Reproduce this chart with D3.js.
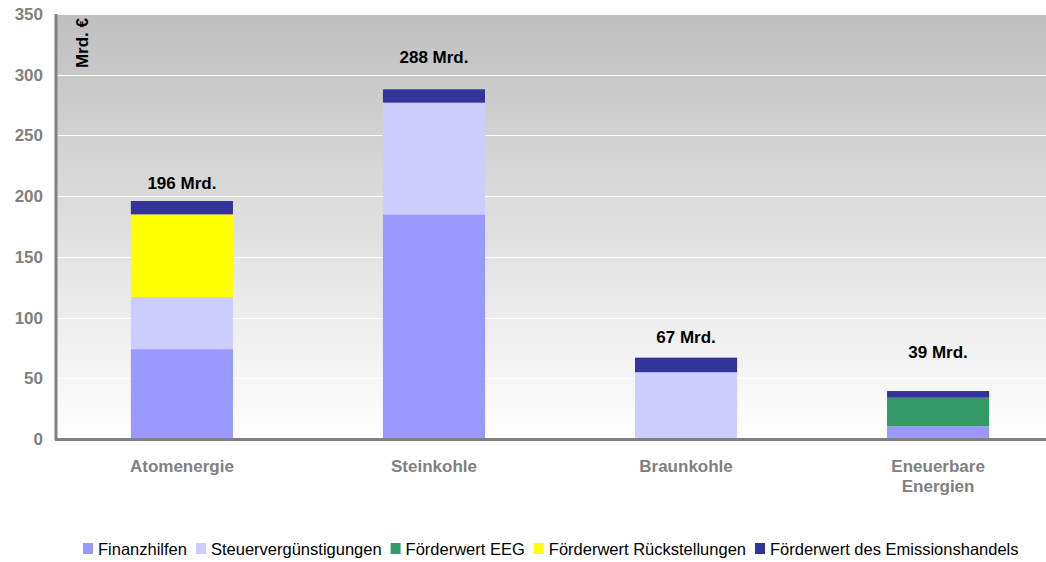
<!DOCTYPE html>
<html>
<head>
<meta charset="utf-8">
<script src="https://cdn.jsdelivr.net/npm/d3@7/dist/d3.min.js"></script>
<style>
  html, body { margin: 0; padding: 0; background: #fff; }
  svg { display: block; font-family: "Liberation Sans", Arial, sans-serif; }
</style>
</head>
<body>
<svg id="chart" width="1046" height="562"></svg>
<script>
// ---- Daten (Mrd. €) ----
const categories = ["Atomenergie", "Steinkohle", "Braunkohle", "Eneuerbare Energien"];
const seriesNames = ["Finanzhilfen", "Steuervergünstigungen", "Förderwert EEG", "Förderwert Rückstellungen", "Förderwert des Emissionshandels"];
const finanzhilfen = [74, 185, 0, 10.5];
const steuer = [43, 92, 55, 0];
const eeg = [0, 0, 0, 23.5];
const rueckstellungen = [68, 0, 0, 0];
const emission = [11, 11, 12, 5.5];
const totalLabels = ["196 Mrd.", "288 Mrd.", "67 Mrd.", "39 Mrd."];
const yTicks = [0, 50, 100, 150, 200, 250, 300, 350];

const colors = ["#9999ff", "#ccccff", "#339966", "#ffff00", "#333399"];
const seriesValues = [finanzhilfen, steuer, eeg, rueckstellungen, emission];

const svg = d3.select("#chart");
const W = 1046, H = 562;
const m = { left: 56, top: 14, bottom: 439 };
const plotRight = 1064; // Kategorie-Bänder laufen rechts über den Rand hinaus
const FONT = "Liberation Sans, Arial, sans-serif";

const x = d3.scaleBand().domain(categories).range([m.left, plotRight]).paddingInner(0.595).paddingOuter(0.297);
const y = d3.scaleLinear().domain([0, 350]).range([m.bottom, m.top]);

// Hintergrund-Verlauf
const defs = svg.append("defs");
const grad = defs.append("linearGradient").attr("id", "bg").attr("x1", 0).attr("y1", 0).attr("x2", 0).attr("y2", 1);
grad.append("stop").attr("offset", "0%").attr("stop-color", "#bfbfbf");
grad.append("stop").attr("offset", "100%").attr("stop-color", "#ffffff");
svg.append("rect").attr("x", m.left).attr("y", m.top).attr("width", W - m.left).attr("height", m.bottom - m.top)
  .attr("fill", "url(#bg)");

// Gitternetz
svg.append("g").selectAll("line").data(yTicks.filter(d => d > 0)).join("line")
  .attr("x1", m.left).attr("x2", W).attr("y1", d => Math.round(y(d)) + 0.5).attr("y2", d => Math.round(y(d)) + 0.5)
  .attr("stroke", "#ffffff").attr("stroke-width", 1.2);

// gestapelte Säulen
const rows = categories.map((c, i) => {
  const r = { cat: c };
  seriesNames.forEach((s, k) => { r[s] = seriesValues[k][i]; });
  return r;
});
const stacked = d3.stack().keys(seriesNames)(rows);
svg.append("g").selectAll("g").data(stacked).join("g")
  .attr("fill", (d, i) => colors[i])
  .selectAll("rect").data(d => d.map(p => ({ p, cat: p.data.cat }))).join("rect")
  .attr("x", d => x(d.cat))
  .attr("width", x.bandwidth())
  .attr("y", d => y(d.p[1]))
  .attr("height", d => Math.max(0, y(d.p[0]) - y(d.p[1])));

// Summen-Beschriftung (Abstand Grundlinie -> Säulenoberkante wie im Original)
const labelGap = [12, 26, 15, 33];
svg.append("g").selectAll("text").data(categories).join("text")
  .attr("x", d => x(d) + x.bandwidth() / 2)
  .attr("y", (d, i) => y(d3.sum(seriesValues, s => s[i])) - labelGap[i])
  .attr("text-anchor", "middle")
  .attr("font-size", 17).attr("font-weight", "bold").attr("fill", "#000")
  .text((d, i) => totalLabels[i]);

// Achsen
const axisColor = "#808080";
svg.append("line").attr("x1", m.left).attr("x2", m.left).attr("y1", m.top).attr("y2", m.bottom + 1)
  .attr("stroke", axisColor).attr("stroke-width", 3);
svg.append("line").attr("x1", m.left - 1).attr("x2", W).attr("y1", m.bottom + 0.5).attr("y2", m.bottom + 0.5)
  .attr("stroke", axisColor).attr("stroke-width", 3);

const yAxis = svg.append("g").attr("transform", `translate(${m.left},0)`)
  .call(d3.axisLeft(y).tickValues(yTicks).tickSize(0).tickPadding(13));
yAxis.select(".domain").remove();
yAxis.selectAll("text").attr("font-size", 17).attr("font-weight", "bold").attr("fill", axisColor)
  .attr("font-family", FONT);

const xAxis = svg.append("g").attr("transform", `translate(0,${m.bottom})`)
  .call(d3.axisBottom(x).tickSize(0).tickFormat(""));
xAxis.select(".domain").remove();
xAxis.selectAll(".tick").each(function (d) {
  const words = d === "Eneuerbare Energien" ? ["Eneuerbare", "Energien"] : [d];
  const t = d3.select(this).append("text").attr("fill", axisColor).attr("font-size", 17)
    .attr("font-weight", "bold").attr("text-anchor", "middle").attr("font-family", FONT);
  words.forEach((w, k) => t.append("tspan").attr("x", 0).attr("y", 33 + k * 20).text(w));
});

// Einheit
svg.append("text").attr("transform", `translate(88,18) rotate(-90)`)
  .attr("text-anchor", "end").attr("font-size", 17).attr("font-weight", "bold").attr("fill", "#000")
  .text("Mrd. €");

// Legende
const legend = svg.append("g").attr("font-size", 16.5).attr("fill", "#000");
let lx = 83;
seriesNames.forEach((s, i) => {
  legend.append("rect").attr("x", lx).attr("y", 543).attr("width", 10).attr("height", 11).attr("fill", colors[i]);
  const t = legend.append("text").attr("x", lx + 15).attr("y", 555).text(s);
  lx += 15 + t.node().getComputedTextLength() + 9;
});
</script>
</body>
</html>
